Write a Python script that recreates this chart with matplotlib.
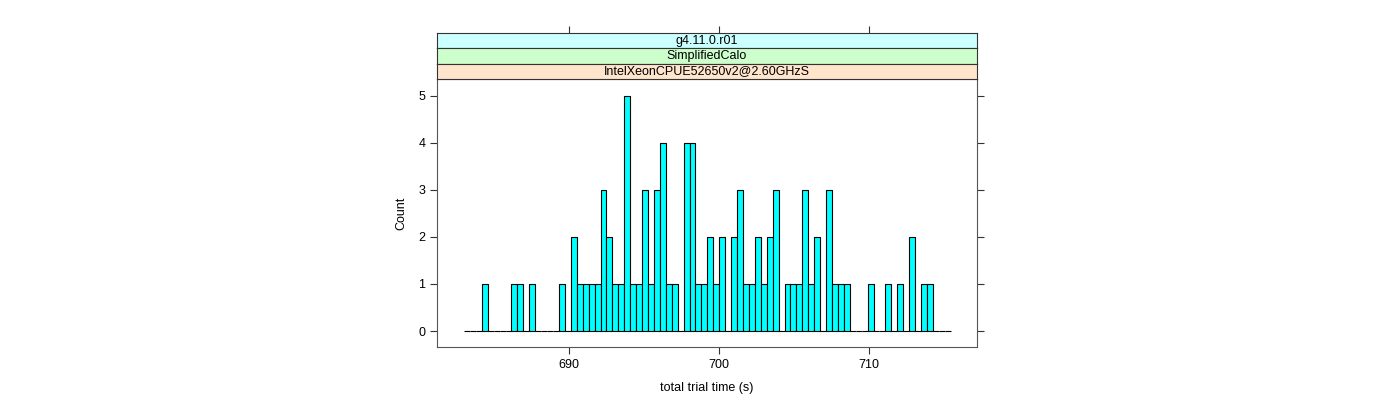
import numpy as np
import matplotlib
matplotlib.use("Agg")
import matplotlib.pyplot as plt

plt.rcParams['font.family'] = ['Liberation Sans', 'DejaVu Sans']

# histogram breaks (start, bin width) and count per bin
bin_start = 683.0
bin_width = 0.3957
counts = [0, 0, 0, 1, 0, 0, 0, 0, 1, 1,
          0, 1, 0, 0, 0, 0, 1, 0, 2, 1,
          1, 1, 1, 3, 2, 1, 1, 5, 1, 1,
          3, 1, 3, 4, 1, 1, 0, 4, 4, 1,
          1, 2, 1, 2, 0, 2, 3, 1, 1, 2,
          1, 2, 3, 0, 1, 1, 1, 3, 1, 2,
          0, 3, 1, 1, 1, 0, 0, 0, 1, 0,
          0, 1, 0, 1, 0, 2, 0, 1, 1, 0,
          0, 0]
strip_labels = ["g4.11.0.r01", "SimplifiedCalo", "IntelXeonCPUE52650v2@2.60GHzS"]
strip_colors = ["#CCFFFF", "#CCFFCC", "#FFE5CC"]
x_ticks = [690, 700, 710]
y_ticks = [0, 1, 2, 3, 4, 5]

W, H = 1400, 400
fig = plt.figure(figsize=(14, 4), dpi=100)

# main panel
ax = fig.add_axes([437 / W, 1 - 347 / H, 540 / W, 268 / H])
lefts = bin_start + bin_width * np.arange(len(counts))
ax.bar(lefts, counts, width=bin_width, align='edge', color='#00FFFF',
       edgecolor='black', linewidth=0.8)
ax.set_xlim(681.2, 717.2)
ax.set_ylim(-0.34, 5.36)
ax.set_xticks(x_ticks)
ax.set_yticks(y_ticks)
ax.tick_params(axis='both', direction='out', length=5, width=0.8,
               labelsize=9, color='#333333')
ax.tick_params(axis='y', right=True, labelright=False)
for s in ax.spines.values():
    s.set_color('#555555')
    s.set_linewidth(0.8)
ax.set_xlabel("total trial time (s)", fontsize=9, labelpad=8)
ax.set_ylabel("Count", fontsize=9, labelpad=8)

# strips above the panel
strip_h = 46 / 3
for i, (lab, col) in enumerate(zip(strip_labels, strip_colors)):
    top = 33 + i * strip_h
    sax = fig.add_axes([437 / W, 1 - (top + strip_h) / H, 540 / W, strip_h / H])
    sax.set_facecolor(col)
    sax.set_xlim(681.2, 717.2)
    sax.set_ylim(0, 1)
    sax.set_yticks([])
    if i == 0:
        sax.set_xticks(x_ticks)
        sax.tick_params(axis='x', bottom=False, top=True, labelbottom=False,
                        direction='out', length=5, width=0.8, color='#333333')
    else:
        sax.set_xticks([])
    for s in sax.spines.values():
        s.set_color('#333333')
        s.set_linewidth(0.8)
    sax.text(0.5, 0.5, lab, transform=sax.transAxes, ha='center', va='center',
             fontsize=9)

fig.savefig("out.png", dpi=100)
